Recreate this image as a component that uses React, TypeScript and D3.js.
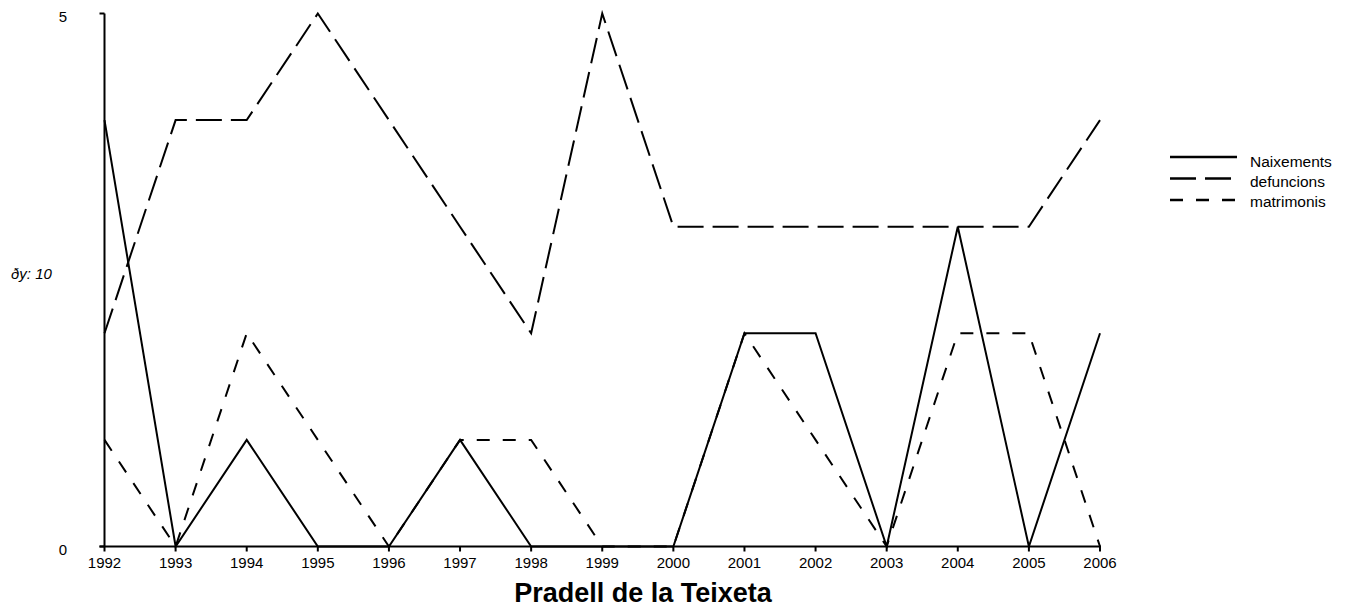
import React from "react";
import * as d3 from "d3";

const years = [1992, 1993, 1994, 1995, 1996, 1997, 1998, 1999, 2000, 2001, 2002, 2003, 2004, 2005, 2006];
const naixements = [4, 0, 1, 0, 0, 1, 0, 0, 0, 2, 2, 0, 3, 0, 2];
const defuncions = [2, 4, 4, 5, 4, 3, 2, 5, 3, 3, 3, 3, 3, 3, 4];
const matrimonis = [1, 0, 2, 1, 0, 1, 1, 0, 0, 2, 1, 0, 2, 2, 0];
const yTicks = [0, 5];

const series = [
  { name: "Naixements", values: naixements, dash: "none" },
  { name: "defuncions", values: defuncions, dash: "26,9" },
  { name: "matrimonis", values: matrimonis, dash: "13,13" },
];

const W = 1351;
const H = 608;
const font = "'Liberation Sans', Arial, sans-serif";

export default function App() {
  const x = d3.scaleLinear().domain([years[0], years[years.length - 1]]).range([104.5, 1100]);
  const y = d3.scaleLinear().domain([0, 5]).range([546.5, 13.5]);

  const lineGen = d3
    .line<number>()
    .x((_, i) => x(years[i]))
    .y((v) => y(v));

  return (
    <svg
      width={W}
      height={H}
      style={{ position: "absolute", left: 0, top: 0, background: "#fff" }}
      fontFamily={font}
    >
      {/* series */}
      {series.map((s) => (
        <path
          key={s.name}
          d={lineGen(s.values) || ""}
          fill="none"
          stroke="#000"
          strokeWidth={2}
          strokeDasharray={s.dash}
          strokeLinejoin="miter"
        />
      ))}

      {/* y axis */}
      <line x1={x(years[0])} x2={x(years[0])} y1={y(5)} y2={y(0)} stroke="#000" strokeWidth={2} />
      {yTicks.map((t) => (
        <g key={t}>
          <line x1={x(years[0]) - 5} x2={x(years[0])} y1={y(t)} y2={y(t)} stroke="#000" strokeWidth={2} />
          <text x={67} y={y(t) + 8.5} textAnchor="end" fontSize={15}>
            {t}
          </text>
        </g>
      ))}

      {/* x axis */}
      <line x1={x(years[0]) - 5} x2={x(years[years.length - 1]) + 1} y1={y(0)} y2={y(0)} stroke="#000" strokeWidth={2} />
      {years.map((yr) => (
        <g key={yr}>
          <line x1={x(yr)} x2={x(yr)} y1={y(0)} y2={y(0) + 5} stroke="#000" strokeWidth={2} />
          <text x={x(yr)} y={568} textAnchor="middle" fontSize={15}>
            {yr}
          </text>
        </g>
      ))}

      {/* y label */}
      <text x={11} y={279} fontSize={15} fontStyle="italic">
        ðy: 10
      </text>

      {/* title */}
      <text x={643} y={602} textAnchor="middle" fontSize={27} fontWeight="bold">
        Pradell de la Teixeta
      </text>

      {/* legend */}
      {series.map((s, i) => (
        <g key={s.name}>
          <line
            x1={1170}
            x2={1237}
            y1={157 + i * 21.5}
            y2={157 + i * 21.5}
            stroke="#000"
            strokeWidth={2.5}
            strokeDasharray={s.dash}
          />
          <text x={1250} y={166.5 + i * 20} fontSize={15.5}>
            {s.name}
          </text>
        </g>
      ))}
    </svg>
  );
}
